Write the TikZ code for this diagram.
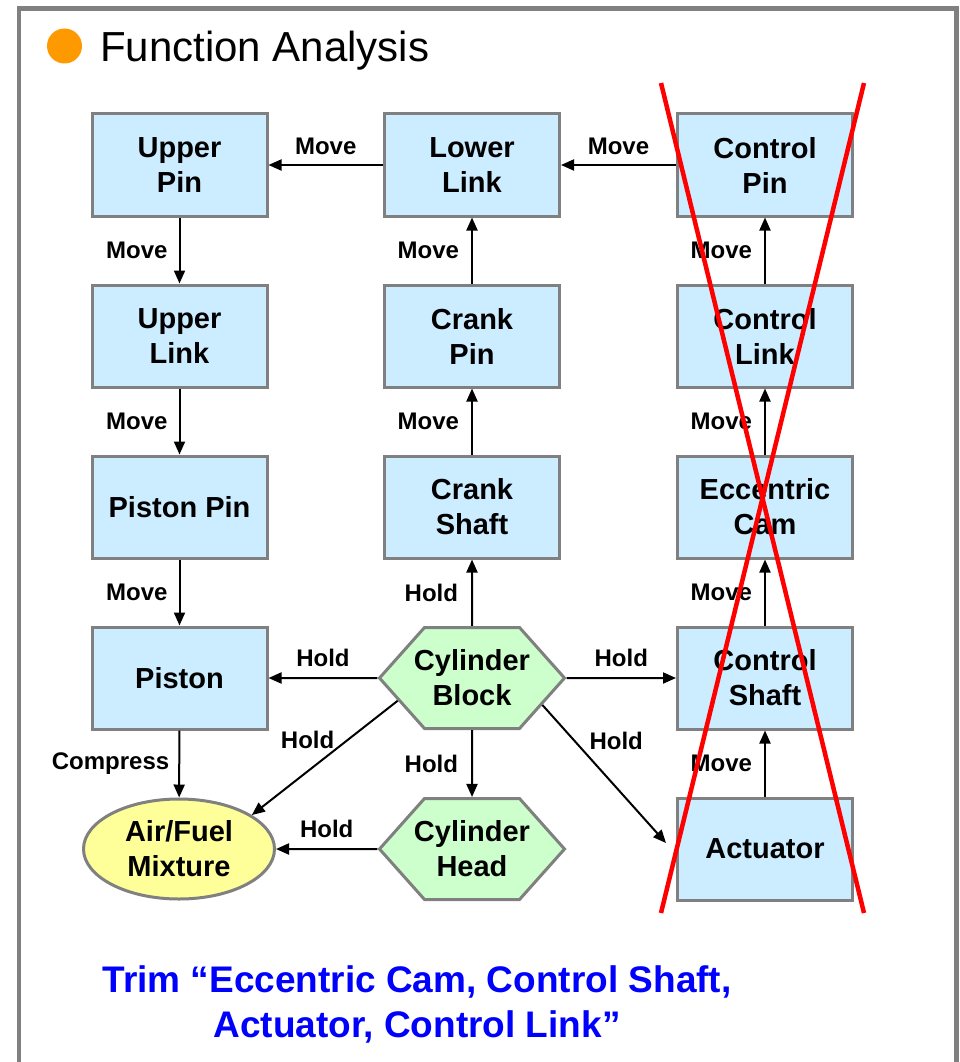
\documentclass[tikz,border=0pt]{standalone}
\usepackage{fontspec}
\setmainfont{Liberation Sans}
\usetikzlibrary{arrows.meta,shapes.geometric,shapes.symbols,positioning}

\definecolor{boxblue}{HTML}{CCECFF}
\definecolor{hexgreen}{HTML}{CCFFCC}
\definecolor{mixyellow}{HTML}{FFFF99}
\definecolor{edgegray}{HTML}{808080}
\definecolor{bulletorange}{HTML}{FF9900}
\definecolor{trimblue}{HTML}{0000FF}

\newcommand{\partfont}{\fontsize{29}{35}\selectfont\bfseries}
\newcommand{\lblfont}{\fontsize{24}{28}\selectfont\bfseries}

\tikzset{
	part/.style={draw=edgegray, line width=3pt, fill=boxblue, align=center,
		minimum width=175pt, minimum height=102pt, inner sep=0pt, font=\partfont},
	fixed/.style={draw=edgegray, line width=3pt, fill=hexgreen, align=center,
		signal, signal to=west and east, signal pointer angle=96.6,
		inner xsep=-10.5pt, inner ysep=0pt, minimum height=101pt, font=\partfont},
	gas/.style={draw=edgegray, line width=3pt, fill=mixyellow, align=center, ellipse,
		minimum width=191pt, minimum height=100pt, inner sep=0pt, font=\partfont},
	act/.style={draw, line width=2pt, -{Triangle[length=13pt,width=11pt]}},
	lbl/.style={font=\lblfont, inner sep=0pt},
	cross/.style={draw=red, line width=4.5pt}
}

\begin{document}
\begin{tikzpicture}[x=1pt,y=-1pt]
		\useasboundingbox (0,0) rectangle (960,1062);
		\draw[edgegray, line width=4.5pt] (19,1062) |- (956.5,8.5) -- (956.5,1062);

		\fill[bulletorange] (64.5,46) circle (17.5);
		\node[anchor=base west, inner sep=0pt, font=\fontsize{42}{50}\selectfont] (title) at (100,62) {Function Analysis};

		\node[part] (upin) at (179.5,165) {Upper\\Pin};
		\node[part] (ulink) at (179.5,336) {Upper\\Link};
		\node[part] (ppin) at (179.5,507) {Piston Pin};
		\node[part] (piston) at (179.5,678) {Piston};
		\node[gas] (mix) at (179,849) {Air/Fuel\\Mixture};

		\node[part] (llink) at (472,165) {Lower\\Link};
		\node[part] (cpin) at (472,336) {Crank\\Pin};
		\node[part] (cshaft) at (472,507) {Crank\\Shaft};
		\node[fixed] (block) at (472,678) {Cylinder\\Block};
		\node[fixed] (head) at (472,849) {Cylinder\\Head};

		\node[part] (ctrlpin) at (765,165) {Control\\Pin};
		\node[part] (ctrllink) at (765,336) {Control\\Link};
		\node[part] (ecam) at (765,507) {Eccentric\\Cam};
		\node[part] (ctrlshaft) at (765,678) {Control\\Shaft};
		\node[part] (actuator) at (765,849) {Actuator};

		\draw[act] (llink) -- node[lbl, above=9pt] {Move} (upin);
		\draw[act] (ctrlpin) -- node[lbl, above=9pt] {Move} (llink);
		\draw[act] (upin) -- node[lbl, left=11pt] {Move} (ulink);
		\draw[act] (ulink) -- node[lbl, left=11pt] {Move} (ppin);
		\draw[act] (ppin) -- node[lbl, left=11pt] {Move} (piston);
		\draw[act] (piston) -- node[lbl, left=9pt] {Compress} (mix);

		\draw[act] (cpin) -- node[lbl, left=12pt] {Move} (llink);
		\draw[act] (cshaft) -- node[lbl, left=12pt] {Move} (cpin);
		\draw[act] (block) -- node[lbl, left=13pt] {Hold} (cshaft);
		\draw[act] (block) -- node[lbl, left=13pt] {Hold} (head);
		\draw[act] (block) -- node[lbl, above=10pt] {Hold} (piston);
		\draw[act] (block) -- node[lbl, above=10pt] {Hold} (ctrlshaft);
		\draw[act] (block.197) -- node[lbl, pos=0.45, above left=4pt, xshift=6pt] {Hold} (mix.25);
		\draw[act] (block.339) -- node[lbl, pos=0.35, above right=4pt] {Hold} ([xshift=-10pt,yshift=6pt]actuator.west);
		\draw[act] (head) -- node[lbl, above=10pt] {Hold} (mix);

		\draw[act] (ctrllink) -- node[lbl, left=12pt] {Move} (ctrlpin);
		\draw[act] (ecam) -- node[lbl, left=12pt] {Move} (ctrllink);
		\draw[act] (ctrlshaft) -- node[lbl, left=12pt] {Move} (ecam);
		\draw[act] (actuator) -- node[lbl, left=12pt] {Move} (ctrlshaft);

		\draw[cross] (661,83) -- (864,913);
		\draw[cross] (864,83) -- (661,913);

		\node[align=center, inner sep=0pt, text=trimblue, font=\fontsize{37}{45}\selectfont\bfseries] (note) at (417,1004) {Trim “Eccentric Cam, Control Shaft,\\Actuator, Control Link”};
	\end{tikzpicture}
\end{document}
